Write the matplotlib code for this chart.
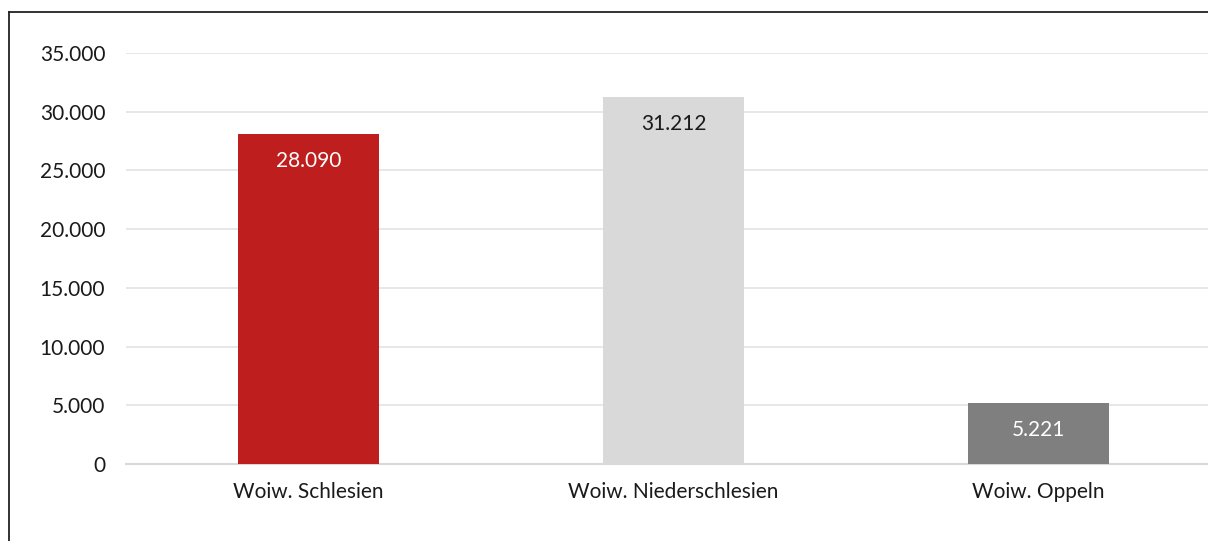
import matplotlib.pyplot as plt
from matplotlib.lines import Line2D

# chart data
regions = ['Woiw. Schlesien', 'Woiw. Niederschlesien', 'Woiw. Oppeln']
values = [28090, 31212, 5221]
value_labels = ['28.090', '31.212', '5.221']
bar_colors = ['#BE1E1E', '#D9D9D9', '#7F7F7F']
label_colors = ['white', '#1a1a1a', 'white']
y_ticks = [0, 5000, 10000, 15000, 20000, 25000, 30000, 35000]
y_tick_labels = ['0', '5.000', '10.000', '15.000', '20.000', '25.000', '30.000', '35.000']

W, H = 1208, 541
plt.rcParams['font.family'] = ['Lato', 'DejaVu Sans']

fig = plt.figure(figsize=(W / 100, H / 100), dpi=100)

# axes reaches past the right edge, like the cropped original
left, right = 126, 1221
bottom, top = 464, 53
ax = fig.add_axes([left / W, 1 - bottom / H, (right - left) / W, (bottom - top) / H])

x = range(len(regions))
bars = ax.bar(x, values, width=0.384, color=bar_colors, zorder=3)

ax.set_xlim(-0.5, 2.5)
ax.set_ylim(0, 35000)
ax.set_yticks(y_ticks)
ax.set_yticklabels(y_tick_labels)
ax.set_xticks(list(x))
ax.set_xticklabels(regions)

ax.grid(axis='y', color='#E3E3E3', linewidth=1.2, zorder=0)
ax.set_axisbelow(True)
for side in ['top', 'right', 'left']:
    ax.spines[side].set_visible(False)
ax.spines['bottom'].set_color('#D9D9D9')
ax.spines['bottom'].set_linewidth(1.5)
ax.tick_params(axis='both', length=0, labelsize=15, colors='#1a1a1a')
ax.tick_params(axis='y', pad=15)
ax.tick_params(axis='x', pad=13)

for b, lab, c in zip(bars, value_labels, label_colors):
    ax.annotate(lab, (b.get_x() + b.get_width() / 2, b.get_height()),
                xytext=(0, -27), textcoords='offset pixels',
                ha='center', va='center', fontsize=15, color=c, zorder=4)

# outer frame: only its left and top edges fall inside the crop
fx = 9 / W
fy = 1 - 12 / H
fig.add_artist(Line2D([fx, fx], [0, fy], transform=fig.transFigure,
                      color='#222222', linewidth=1.3))
fig.add_artist(Line2D([fx, 1], [fy, fy], transform=fig.transFigure,
                      color='#222222', linewidth=1.3))

fig.savefig('out.png', dpi=100)
